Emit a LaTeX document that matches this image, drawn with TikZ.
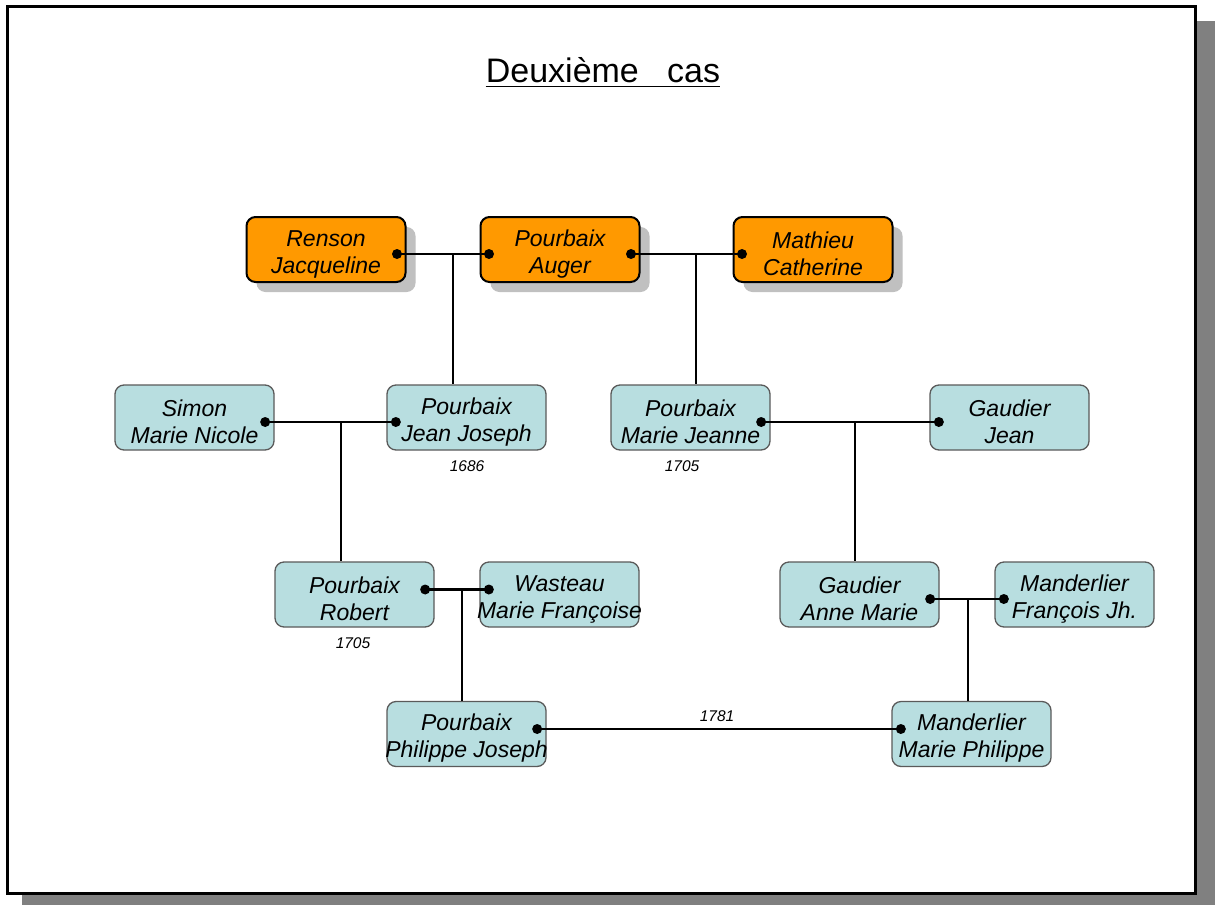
\documentclass[tikz,border=0pt]{standalone}
\usepackage{fontspec}
\setmainfont{Liberation Sans}
\usetikzlibrary{calc}

\definecolor{orangefill}{RGB}{255,153,0}
\definecolor{bluefill}{RGB}{184,222,224}
\definecolor{blueedge}{RGB}{90,90,90}
\definecolor{boxshadow}{RGB}{192,192,192}
\definecolor{pageshadow}{RGB}{128,128,128}

% two name lines; zero-width boxes keep long names from widening the box,
% the strut sets them a little below the box centre
\newcommand\names[2]{\makebox[0pt][c]{\rule{0pt}{25pt}#1}\\\makebox[0pt][c]{#2}}

\tikzset{
  person/.style={rounded corners=9pt, minimum width=159pt, minimum height=65pt,
    inner sep=0pt, align=center, font=\fontsize{23}{27}\selectfont\itshape},
  elder/.style={person, fill=orangefill, draw=black, line width=2pt},
  eldershadow/.style={person, fill=boxshadow},
  child/.style={person, fill=bluefill, draw=blueedge, line width=1.3pt},
  link/.style={line width=2.4pt, draw=black},
  knot/.style={circle, fill=black, inner sep=0pt, minimum size=10pt},
  year/.style={font=\fontsize{15.5}{17}\selectfont\itshape, inner sep=0pt},
}

% an ancestor box with its grey drop shadow
\newcommand\elderbox[4]{%
  \node[eldershadow] (#1-shadow) at ($(#2)+(10,10)$) {};
  \node[elder] (#1) at (#2) {\names{#3}{#4}};}

\begin{document}
\begin{tikzpicture}[x=1pt, y=-1pt]
  \useasboundingbox (0,0) rectangle (1215,905);

  % page frame with its shadow
  \fill[pageshadow] (22,21) rectangle (1215,905);
  \filldraw[fill=white, draw=black, line width=3pt] (7,6.5) rectangle (1195,893.5);

  % title
  \node[inner sep=0pt, anchor=base, font=\fontsize{34}{40}\selectfont] (title)
    at (603,82) {Deuxième\ \ \ cas};
  \draw[line width=1.8pt] ([yshift=-4.5pt]title.base west) -- ([yshift=-4.5pt]title.base east);

  % first generation
  \elderbox{rj}{326,249.5}{Renson}{Jacqueline}
  \elderbox{pa}{560,249.5}{Pourbaix}{Auger}
  \elderbox{mc}{813,249.5}{Mathieu}{Catherine}

  % second generation
  \node[child] (smn) at (194.5,417.5) {\names{Simon}{Marie Nicole}};
  \node[child] (jj)  at (466.5,417.5) {\names{Pourbaix}{Jean Joseph}};
  \node[child] (mj)  at (690.5,417.5) {\names{Pourbaix}{Marie Jeanne}};
  \node[child] (gj)  at (1009.5,417.5) {\names{Gaudier}{Jean}};

  % third generation
  \node[child] (rob) at (354.5,594.5) {\names{Pourbaix}{Robert}};
  \node[child] (wmf) at (559.5,594.5) {\names{Wasteau}{Marie Françoise}};
  \node[child] (gam) at (859.5,594.5) {\names{Gaudier}{Anne Marie}};
  \node[child] (mfj) at (1074.5,594.5) {\names{Manderlier}{François Jh.}};

  % fourth generation
  \node[child] (ppj) at (466.5,734) {\names{Pourbaix}{Philippe Joseph}};
  \node[child] (mmp) at (971.5,734) {\names{Manderlier}{Marie Philippe}};

  % marriage points
  \coordinate (rjR)  at ([xshift=-9.5pt,yshift=-4.5pt]rj.east);
  \coordinate (paL)  at ([xshift=9.5pt,yshift=-4.5pt]pa.west);
  \coordinate (paR)  at ([xshift=-9.5pt,yshift=-4.5pt]pa.east);
  \coordinate (mcL)  at ([xshift=9.5pt,yshift=-4.5pt]mc.west);
  \coordinate (smnR) at ([xshift=-9.5pt,yshift=-4.5pt]smn.east);
  \coordinate (jjL)  at ([xshift=9.5pt,yshift=-4.5pt]jj.west);
  \coordinate (mjR)  at ([xshift=-9.5pt,yshift=-4.5pt]mj.east);
  \coordinate (gjL)  at ([xshift=9.5pt,yshift=-4.5pt]gj.west);
  \coordinate (robR) at ([xshift=-9.5pt,yshift=5pt]rob.east);
  \coordinate (wmfL) at ([xshift=9.5pt,yshift=5pt]wmf.west);
  \coordinate (gamR) at ([xshift=-9.5pt,yshift=-4.5pt]gam.east);
  \coordinate (mfjL) at ([xshift=9.5pt,yshift=-4.5pt]mfj.west);
  \coordinate (ppjR) at ([xshift=-9.5pt,yshift=5pt]ppj.east);
  \coordinate (mmpL) at ([xshift=9.5pt,yshift=5pt]mmp.west);

  % where the descent leaves each marriage line
  \coordinate (d1) at (453,0 |- rjR);
  \coordinate (d2) at (696,0 |- paR);
  \coordinate (d3) at (341,0 |- smnR);
  \coordinate (d4) at (855,0 |- mjR);
  \coordinate (d5) at (462,0 |- robR);
  \coordinate (d6) at (968,0 |- gamR);

  % marriages
  \draw[link] (rjR) -- (paL);
  \draw[link] (paR) -- (mcL);
  \draw[link] (smnR) -- (jjL);
  \draw[link] (mjR) -- (gjL);
  \draw[link] (robR) -- (wmfL);
  \draw[link] (gamR) -- (mfjL);
  \draw[link] (ppjR) -- (mmpL);

  % descents
  \draw[link] (d1) -- (d1 |- jj.north);
  \draw[link] (d2) -- (d2 |- mj.north);
  \draw[link] (d3) -- (d3 |- rob.north);
  \draw[link] (d4) -- (d4 |- gam.north);
  \draw[link] (d5) -- (d5 |- ppj.north);
  \draw[link] (d6) -- (d6 |- mmp.north);

  % dots
  \foreach \p in {rjR,paL,paR,mcL,smnR,jjL,mjR,gjL,robR,wmfL,gamR,mfjL,ppjR,mmpL}
    \node[knot] (k-\p) at (\p) {};

  % dates
  \node[year] (y1) at (467,466) {1686};
  \node[year] (y2) at (682,466) {1705};
  \node[year] (y3) at (353,643) {1705};
  \node[year] (y4) at (717,716) {1781};
\end{tikzpicture}
\end{document}
